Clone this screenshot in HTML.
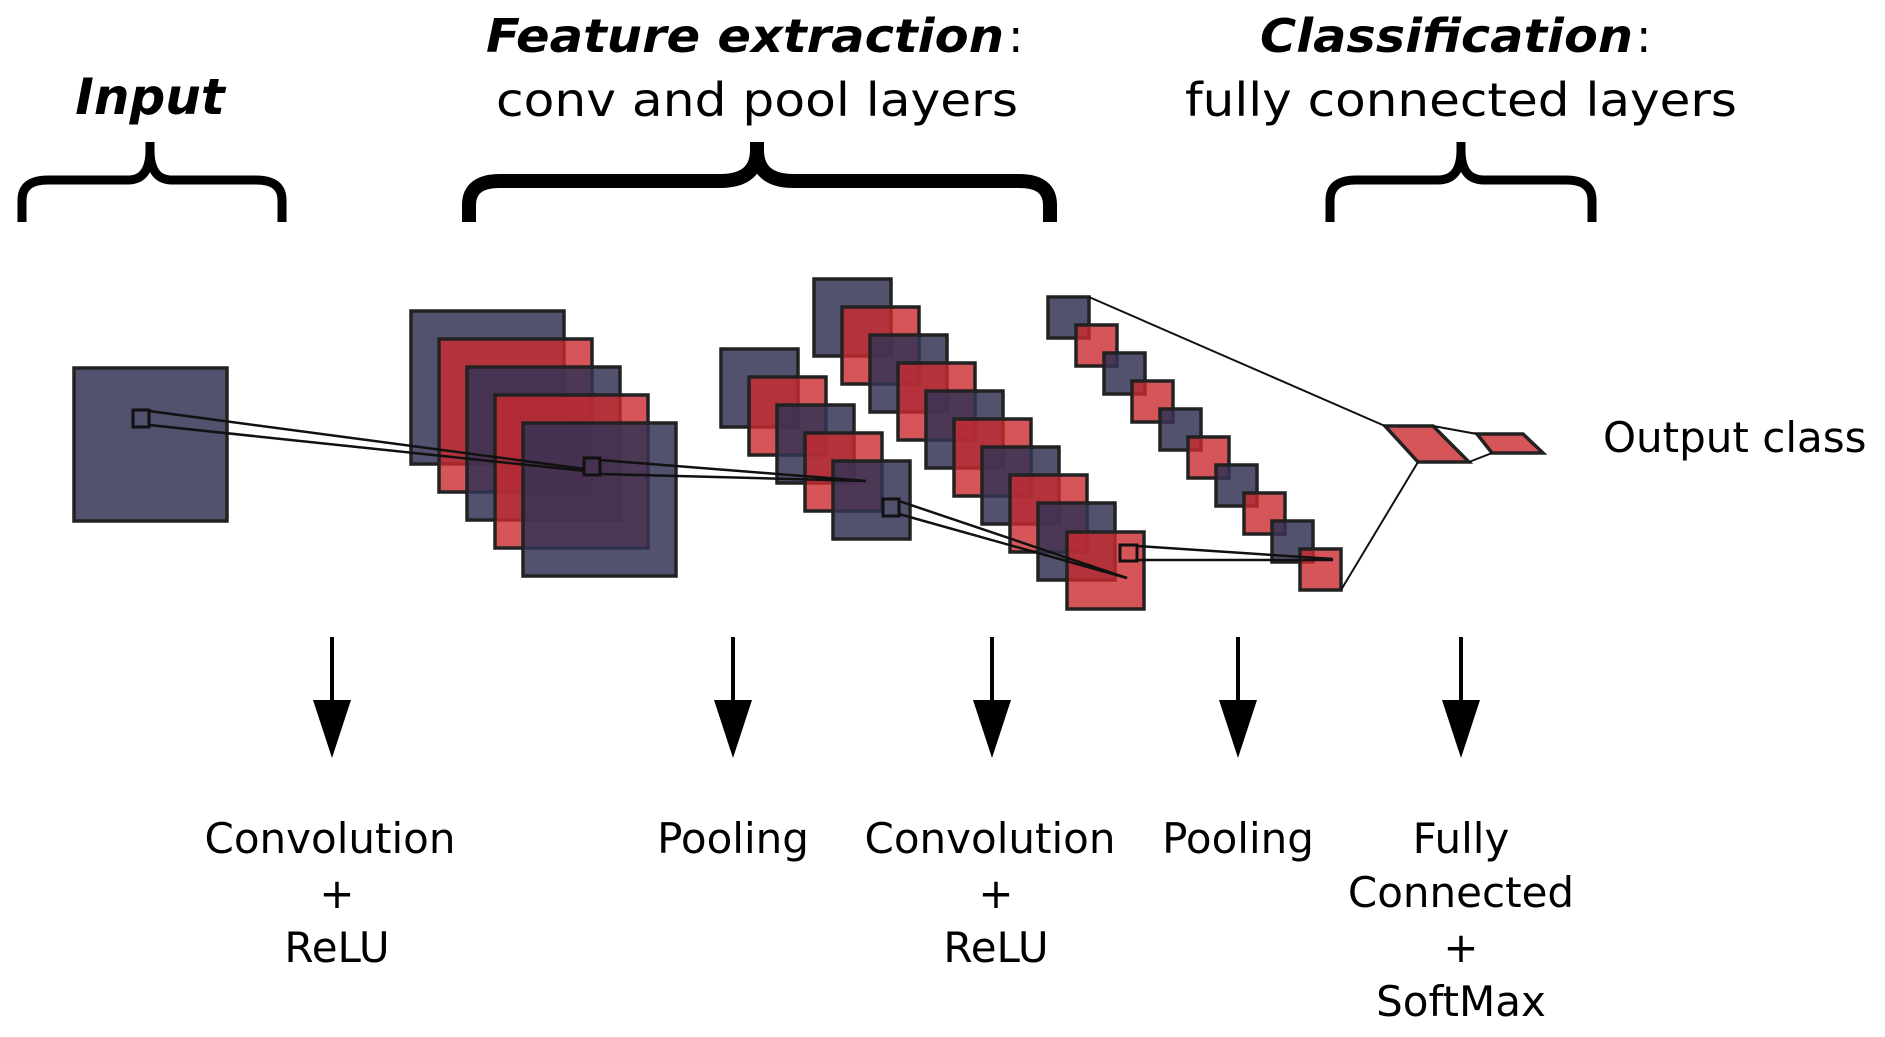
<!DOCTYPE html>
<html><head><meta charset="utf-8"><style>
html,body{margin:0;padding:0;background:#fff;}
svg{display:block;}
text{font-family:"DejaVu Sans","Liberation Sans",sans-serif;fill:#000;}
</style></head><body>
<svg width="1885" height="1037" viewBox="0 0 1885 1037" xmlns="http://www.w3.org/2000/svg">
<!-- Headers -->
<text x="150" y="114" font-size="50" font-weight="bold" font-style="italic" text-anchor="middle">Input</text>
<text x="486" y="52" font-size="46" font-weight="bold" font-style="italic" textLength="518" lengthAdjust="spacingAndGlyphs">Feature extraction</text>
<text x="1008" y="52" font-size="46">:</text>
<text x="757" y="116" font-size="46" text-anchor="middle" textLength="522" lengthAdjust="spacingAndGlyphs">conv and pool layers</text>
<text x="1260" y="52" font-size="46" font-weight="bold" font-style="italic" textLength="373" lengthAdjust="spacingAndGlyphs">Classification</text>
<text x="1636" y="52" font-size="46">:</text>
<text x="1461" y="116" font-size="46" text-anchor="middle" textLength="552" lengthAdjust="spacingAndGlyphs">fully connected layers</text>

<!-- Braces -->
<g fill="none" stroke="#000" stroke-linecap="butt">
<path d="M22,222 L22,200 Q22,180 48,180 L128,180 Q150,180 150,150 L150,142" stroke-width="9"/>
<path d="M282,222 L282,200 Q282,180 256,180 L172,180 Q150,180 150,150" stroke-width="9"/>
<path d="M469,222 L469,205 Q469,181 500,181 L720,181 Q757,181 757,150 L757,142" stroke-width="14"/>
<path d="M1050,222 L1050,205 Q1050,181 1019,181 L794,181 Q757,181 757,150" stroke-width="14"/>
<path d="M1330,222 L1330,200 Q1330,180 1356,180 L1438,180 Q1461,180 1461,150 L1461,142" stroke-width="9"/>
<path d="M1592,222 L1592,200 Q1592,180 1566,180 L1484,180 Q1461,180 1461,150" stroke-width="9"/>
</g>

<g stroke="#222" stroke-width="3.5">
<rect x="74" y="368" width="153" height="153" fill="#343255" fill-opacity="0.85"/>
<rect x="411" y="311" width="153" height="153" fill="#343255" fill-opacity="0.85"/>
<rect x="439" y="339" width="153" height="153" fill="#cc2a30" fill-opacity="0.8"/>
<rect x="467" y="367" width="153" height="153" fill="#343255" fill-opacity="0.85"/>
<rect x="495" y="395" width="153" height="153" fill="#cc2a30" fill-opacity="0.8"/>
<rect x="523" y="423" width="153" height="153" fill="#343255" fill-opacity="0.85"/>
<rect x="721" y="349" width="77" height="78" fill="#343255" fill-opacity="0.85"/>
<rect x="749" y="377" width="77" height="78" fill="#cc2a30" fill-opacity="0.8"/>
<rect x="777" y="405" width="77" height="78" fill="#343255" fill-opacity="0.85"/>
<rect x="805" y="433" width="77" height="78" fill="#cc2a30" fill-opacity="0.8"/>
<rect x="833" y="461" width="77" height="78" fill="#343255" fill-opacity="0.85"/>
<rect x="814" y="279" width="77" height="77" fill="#343255" fill-opacity="0.85"/>
<rect x="842" y="307" width="77" height="77" fill="#cc2a30" fill-opacity="0.8"/>
<rect x="870" y="335" width="77" height="77" fill="#343255" fill-opacity="0.85"/>
<rect x="898" y="363" width="77" height="77" fill="#cc2a30" fill-opacity="0.8"/>
<rect x="926" y="391" width="77" height="77" fill="#343255" fill-opacity="0.85"/>
<rect x="954" y="419" width="77" height="77" fill="#cc2a30" fill-opacity="0.8"/>
<rect x="982" y="447" width="77" height="77" fill="#343255" fill-opacity="0.85"/>
<rect x="1010" y="475" width="77" height="77" fill="#cc2a30" fill-opacity="0.8"/>
<rect x="1038" y="503" width="77" height="77" fill="#343255" fill-opacity="0.85"/>
<rect x="1067" y="532" width="77" height="77" fill="#cc2a30" fill-opacity="0.8"/>
<rect x="1048" y="297" width="41" height="41" fill="#343255" fill-opacity="0.85"/>
<rect x="1076" y="325" width="41" height="41" fill="#cc2a30" fill-opacity="0.8"/>
<rect x="1104" y="353" width="41" height="41" fill="#343255" fill-opacity="0.85"/>
<rect x="1132" y="381" width="41" height="41" fill="#cc2a30" fill-opacity="0.8"/>
<rect x="1160" y="409" width="41" height="41" fill="#343255" fill-opacity="0.85"/>
<rect x="1188" y="437" width="41" height="41" fill="#cc2a30" fill-opacity="0.8"/>
<rect x="1216" y="465" width="41" height="41" fill="#343255" fill-opacity="0.85"/>
<rect x="1244" y="493" width="41" height="41" fill="#cc2a30" fill-opacity="0.8"/>
<rect x="1272" y="521" width="41" height="41" fill="#343255" fill-opacity="0.85"/>
<rect x="1300" y="549" width="41" height="41" fill="#cc2a30" fill-opacity="0.8"/>
<polygon points="1385,426 1433,426 1469,462 1418,462" fill="#cc2a30" fill-opacity="0.8"/>
<polygon points="1477,434 1523,434 1543,453 1492,453" fill="#cc2a30" fill-opacity="0.8"/>
</g>

<g fill="none" stroke="#111" stroke-width="2.5">
<rect x="133" y="410" width="16" height="17" stroke-width="3"/>
<line x1="149" y1="411" x2="585" y2="469"/>
<line x1="149" y1="425" x2="585" y2="471"/>
<rect x="584" y="458" width="16" height="17" stroke-width="3"/>
<line x1="600" y1="460" x2="866" y2="481"/>
<line x1="600" y1="474" x2="866" y2="481"/>
<rect x="883" y="499" width="16" height="17" stroke-width="3"/>
<line x1="899" y1="501" x2="1127" y2="578"/>
<line x1="899" y1="514" x2="1127" y2="578"/>
<rect x="1120" y="545" width="17" height="16" stroke-width="3"/>
<line x1="1137" y1="546" x2="1333" y2="559"/>
<line x1="1137" y1="560" x2="1333" y2="560"/>
<line x1="1089" y1="297" x2="1385" y2="426" stroke-width="2"/>
<line x1="1341" y1="590" x2="1418" y2="462" stroke-width="2"/>
<line x1="1433" y1="426" x2="1477" y2="434" stroke-width="2"/>
<line x1="1469" y1="462" x2="1492" y2="453" stroke-width="2"/>
</g>

<text x="1603" y="452" font-size="42">Output class</text>

<g stroke="#000" stroke-width="4" fill="#000">
<line x1="332" y1="637" x2="332" y2="720"/><polygon points="313,700 351,700 332,758" stroke="none"/>
<line x1="733" y1="637" x2="733" y2="720"/><polygon points="714,700 752,700 733,758" stroke="none"/>
<line x1="992" y1="637" x2="992" y2="720"/><polygon points="973,700 1011,700 992,758" stroke="none"/>
<line x1="1238" y1="637" x2="1238" y2="720"/><polygon points="1219,700 1257,700 1238,758" stroke="none"/>
<line x1="1461" y1="637" x2="1461" y2="720"/><polygon points="1442,700 1480,700 1461,758" stroke="none"/>
</g>

<g font-size="42" text-anchor="middle">
<text x="330" y="853">Convolution</text>
<text x="337" y="908">+</text>
<text x="337" y="962">ReLU</text>
<text x="733" y="853">Pooling</text>
<text x="990" y="853">Convolution</text>
<text x="996" y="908">+</text>
<text x="996" y="962">ReLU</text>
<text x="1238" y="853">Pooling</text>
<text x="1461" y="853">Fully</text>
<text x="1461" y="907">Connected</text>
<text x="1461" y="962">+</text>
<text x="1461" y="1016">SoftMax</text>
</g>
</svg>
</body></html>
